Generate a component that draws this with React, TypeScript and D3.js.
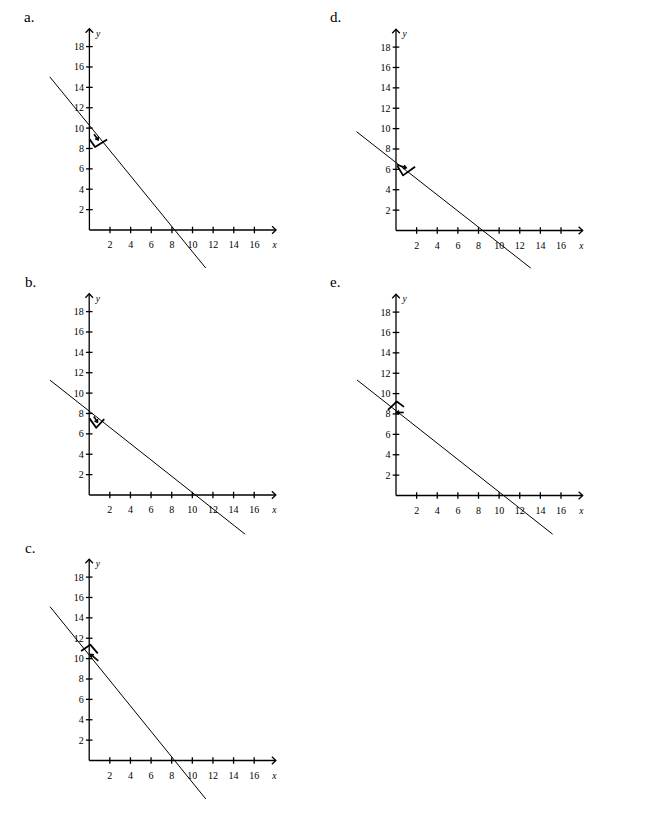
import React from "react";
import * as d3 from "d3";

// ---- data ----
const panelNames = ["a.", "b.", "c.", "d.", "e."];
const xTicks = [2, 4, 6, 8, 10, 12, 14, 16];
const yTicks = [2, 4, 6, 8, 10, 12, 14, 16, 18];

// line endpoints (data units)
const lineA: [number, number][] = [[-3.84, 15.03], [11.28, -3.73]];
const lineB: [number, number][] = [[-3.8, 11.27], [15.12, -3.85]];
const lineC: [number, number][] = [[-3.8, 15.1], [11.31, -3.78]];
const lineD: [number, number][] = [[-3.83, 9.7], [13.07, -3.69]];
const lineE: [number, number][] = [[-3.78, 11.34], [15.19, -3.8]];

// right-angle marker polylines (data units)
const markA: [number, number][] = [[0, 8.93], [0.55, 8.14], [1.72, 8.88]];
const markB: [number, number][] = [[0.03, 7.52], [0.68, 6.6], [1.46, 7.45]];
const markC: [number, number][] = [[-0.78, 10.75], [0.1, 11.37], [0.83, 10.51]];
const markD: [number, number][] = [[0.13, 6.34], [0.68, 5.41], [1.85, 6.25]];
const markE: [number, number][] = [[-0.78, 8.4], [0.07, 9.22], [0.78, 8.7]];

// small arrows on markers (from -> to, data units)
const arrowA: [number, number][] = [[0.45, 9.4], [0.85, 8.85]];
const arrowB: [number, number][] = [[0.45, 7.7], [0.8, 7.15]];
const arrowC: [number, number][] = [[0.88, 9.77], [0.15, 10.41]];
const arrowD: [number, number][] = [[0.1, 6.45], [0.98, 6.15]];
const arrowE: [number, number][] = [[0.75, 8.15], [0.05, 8.15]];

const lines = [lineA, lineB, lineC, lineD, lineE];
const marks = [markA, markB, markC, markD, markE];
const arrows = [arrowA, arrowB, arrowC, arrowD, arrowE];

// ---- layout ----
const origins: [number, number][] = [
  [89.4, 230],
  [89.2, 495],
  [89.2, 760.5],
  [396, 230.5],
  [396, 495.5],
];
const labelPos: [number, number][] = [
  [24, 21.5],
  [25, 286.5],
  [25, 552.5],
  [330, 21.5],
  [330, 286.5],
];

const FONT = "Liberation Serif, Times New Roman, DejaVu Serif, serif";

function Panel({ idx }: { idx: number }) {
  const [ox, oy] = origins[idx];
  const x = d3.scaleLinear().domain([0, 16]).range([ox, ox + 165]);
  const y = d3.scaleLinear().domain([0, 18]).range([oy, oy - 183.4]);
  const lineGen = d3
    .line<[number, number]>()
    .x((d) => x(d[0]))
    .y((d) => y(d[1]));
  const xEnd = x(18.1);
  const yEnd = y(19.75);
  const t = 3.3;
  const [sx, sy] = arrows[idx][0];
  const [ex, ey] = arrows[idx][1];
  const ax1 = x(sx), ay1 = y(sy), ax2 = x(ex), ay2 = y(ey);
  const ang = Math.atan2(ay2 - ay1, ax2 - ax1);
  const h = 3.2;
  const head = `M${ax2 - h * Math.cos(ang - 0.6)},${ay2 - h * Math.sin(ang - 0.6)} L${ax2},${ay2} L${ax2 - h * Math.cos(ang + 0.6)},${ay2 - h * Math.sin(ang + 0.6)}`;
  return (
    <g>
      <text x={labelPos[idx][0]} y={labelPos[idx][1]} fontFamily={FONT} fontSize={15}>
        {panelNames[idx]}
      </text>
      {/* axes */}
      <line x1={x(0)} y1={y(0)} x2={xEnd} y2={y(0)} stroke="#000" strokeWidth={1.3} />
      <line x1={x(0)} y1={y(0)} x2={x(0)} y2={yEnd} stroke="#000" strokeWidth={1.3} />
      <path
        d={`M${xEnd - 4},${y(0) - 3.8} L${xEnd},${y(0)} L${xEnd - 4},${y(0) + 3.8}`}
        fill="none"
        stroke="#000"
        strokeWidth={1.3}
      />
      <path
        d={`M${x(0) - 3.8},${yEnd + 4} L${x(0)},${yEnd} L${x(0) + 3.8},${yEnd + 4}`}
        fill="none"
        stroke="#000"
        strokeWidth={1.3}
      />
      {xTicks.map((v) => (
        <g key={"x" + v}>
          <line x1={x(v)} x2={x(v)} y1={y(0) - t} y2={y(0) + t} stroke="#000" strokeWidth={1.3} />
          <text x={x(v)} y={y(0) + 18.3} textAnchor="middle" fontFamily={FONT} fontSize={10} fill="#000">
            {v}
          </text>
        </g>
      ))}
      {yTicks.map((v) => (
        <g key={"y" + v}>
          <line x1={x(0) - t} x2={x(0) + t} y1={y(v)} y2={y(v)} stroke="#000" strokeWidth={1.3} />
          <text x={x(0) - 5.5} y={y(v) + 3.4} textAnchor="end" fontFamily={FONT} fontSize={10} fill="#000">
            {v}
          </text>
        </g>
      ))}
      <text x={x(0) + 6.5} y={yEnd + 8} fontFamily={FONT} fontStyle="italic" fontSize={9.5}>
        y
      </text>
      <text x={xEnd - 3.5} y={y(0) + 18} fontFamily={FONT} fontStyle="italic" fontSize={9.5}>
        x
      </text>
      {/* line */}
      <path d={lineGen(lines[idx]) || ""} fill="none" stroke="#000" strokeWidth={1} />
      {/* marker */}
      <path
        d={lineGen(marks[idx]) || ""}
        fill="none"
        stroke="#000"
        strokeWidth={1.8}
        strokeLinejoin="round"
      />
      <line x1={ax1} y1={ay1} x2={ax2} y2={ay2} stroke="#000" strokeWidth={1.6} />
      <path d={head} fill="none" stroke="#000" strokeWidth={1.6} />
    </g>
  );
}

export default function App() {
  return (
    <svg
      width={653}
      height={817}
      style={{ position: "absolute", left: 0, top: 0, background: "#fff" }}
    >
      <rect width={653} height={817} fill="#fff" />
      {panelNames.map((_, i) => (
        <Panel key={i} idx={i} />
      ))}
    </svg>
  );
}
